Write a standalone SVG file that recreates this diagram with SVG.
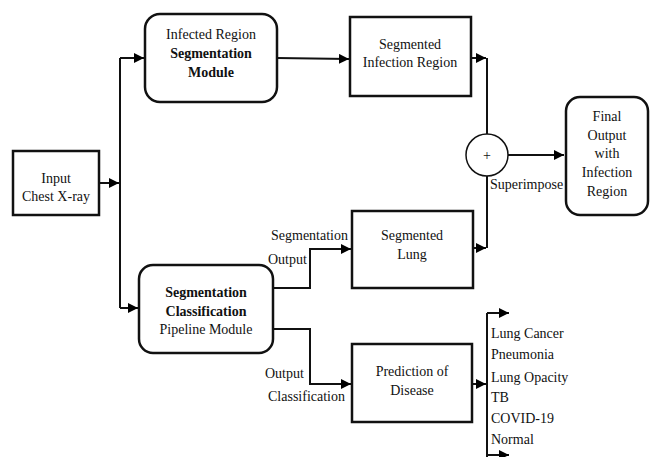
<svg xmlns="http://www.w3.org/2000/svg" width="654" height="457" viewBox="0 0 654 457">
<defs>
<marker id="ah" viewBox="0 0 10 10" refX="10" refY="5" markerWidth="5" markerHeight="5" orient="auto" markerUnits="strokeWidth">
<path d="M0,0 L10,5 L0,10 Z" fill="#000"/>
</marker>
</defs>
<style>
.box{fill:#fff;stroke:#111;stroke-width:2.5}
.t{font-family:'Liberation Serif','DejaVu Serif','Times New Roman',serif;font-size:14px;fill:#111;text-anchor:middle}
.b{font-weight:bold}
.l{text-anchor:start}
.c{fill:none;stroke:#111;stroke-width:2}
.a{marker-end:url(#ah)}
</style>
<rect width="654" height="457" fill="#fff"/>
<g id="connectors">
<path class="c a" d="M99,183 H119"/>
<path class="c" d="M120,308 V58"/>
<path class="c a" d="M120,58 H144"/>
<path class="c a" d="M120,308 H138"/>
<path class="c a" d="M277,58 L349,59"/>
<path class="c a" d="M471,58 H486"/>
<path class="c" d="M487,58 V134"/>
<path class="c a" d="M273,288 H310 V249 H351"/>
<path class="c a" d="M473,248 H486"/>
<path class="c" d="M487,248 V176"/>
<path class="c a" d="M508,155 H564"/>
<path class="c a" d="M273,329 H310 V384 H351"/>
<path class="c a" d="M472,384 H486"/>
<path class="c" d="M487,313 V457"/>
<path class="c a" d="M487,313 H509"/>
<path class="c a" d="M487,455 H509"/>
</g>
<g id="input">
<rect class="box" x="13" y="151" width="86" height="64"/>
<text class="t" x="56" y="183">Input</text>
<text class="t" x="56" y="201">Chest X-ray</text>
</g>
<g id="infected">
<rect class="box" x="145" y="14" width="132" height="88" rx="15"/>
<text class="t" x="211" y="39">Infected Region</text>
<text class="t b" x="211" y="58">Segmentation</text>
<text class="t b" x="211" y="77">Module</text>
</g>
<g id="seginf">
<rect class="box" x="350" y="17" width="121" height="79"/>
<text class="t" x="410" y="49">Segmented</text>
<text class="t" x="410" y="67">Infection Region</text>
</g>
<g id="plus">
<circle cx="487" cy="155" r="21" fill="#fff" stroke="#111" stroke-width="1.5"/>
<text class="t" x="487" y="160">+</text>
<text class="t l" x="490" y="189">Superimpose</text>
</g>
<g id="final">
<rect class="box" x="566" y="97" width="82" height="118" rx="14"/>
<text class="t" x="607" y="121">Final</text>
<text class="t" x="607" y="140">Output</text>
<text class="t" x="607" y="158">with</text>
<text class="t" x="607" y="177">Infection</text>
<text class="t" x="607" y="196">Region</text>
</g>
<g id="pipeline">
<rect class="box" x="139" y="265" width="134" height="88" rx="14"/>
<text class="t b" x="206" y="297">Segmentation</text>
<text class="t b" x="206" y="316">Classification</text>
<text class="t" x="206" y="334">Pipeline Module</text>
</g>
<g id="seglung">
<rect class="box" x="352" y="211" width="121" height="77"/>
<text class="t" x="412" y="240">Segmented</text>
<text class="t" x="412" y="259">Lung</text>
</g>
<g id="prediction">
<rect class="box" x="352" y="344" width="120" height="78"/>
<text class="t" x="412" y="376">Prediction of</text>
<text class="t" x="412" y="395">Disease</text>
</g>
<g id="labels">
<text class="t l" x="271" y="240">Segmentation</text>
<text class="t l" x="268" y="264">Output</text>
<text class="t l" x="265" y="378">Output</text>
<text class="t l" x="268" y="401">Classification</text>
<text class="t l" x="491" y="338">Lung Cancer</text>
<text class="t l" x="491" y="359">Pneumonia</text>
<text class="t l" x="491" y="382">Lung Opacity</text>
<text class="t l" x="491" y="402">TB</text>
<text class="t l" x="491" y="423">COVID-19</text>
<text class="t l" x="491" y="444">Normal</text>
</g>
</svg>
